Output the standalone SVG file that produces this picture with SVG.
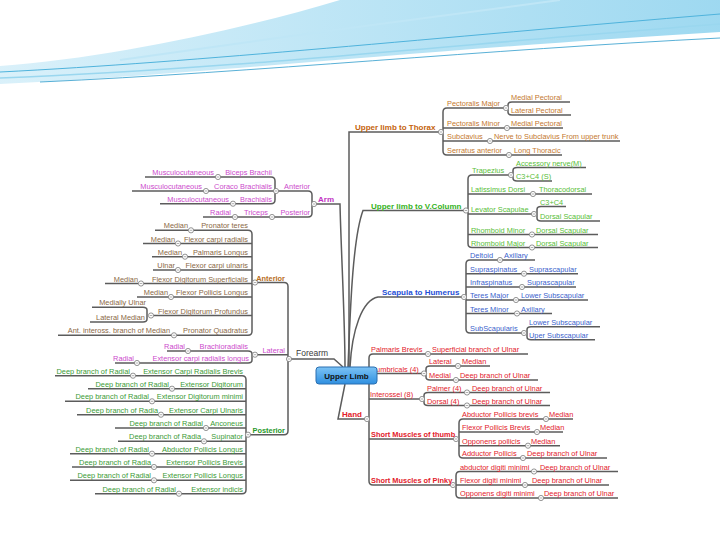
<svg xmlns="http://www.w3.org/2000/svg" xmlns:xlink="http://www.w3.org/1999/xlink" width="720" height="540" viewBox="0 0 720 540">
<defs>
<style>
text{font-family:"Liberation Sans",Arial,sans-serif;font-size:7.4px}
.b{font-weight:bold}
.T{font-size:8px;font-weight:bold}
.e{text-anchor:end}
.ln{fill:none;stroke:#5c5c5c;stroke-width:1.5}
.th{fill:#c4782e}.thT{fill:#c4620c}
.vc{fill:#58be38}.vcT{fill:#34b21c}
.sh{fill:#3a5fcc}.shT{fill:#1f4fd6}
.hd{fill:#e2202a}
.ar{fill:#cc4acc}.arT{fill:#c233c2}
.fa{fill:#8a6845}.faT{fill:#b86e22}
.po{fill:#3a9a35}.poT{fill:#28992a}
.fo{fill:#3a3a3a;font-size:8.5px}
</style>
<linearGradient id="hg" x1="0" y1="0" x2="1" y2="0"><stop offset="0" stop-color="#d3eef9"/><stop offset="1" stop-color="#8dd2ee"/></linearGradient>
<linearGradient id="cg" x1="0" y1="0" x2="0" y2="1"><stop offset="0" stop-color="#7cc3f5"/><stop offset="1" stop-color="#2f8fe0"/></linearGradient>
<g id="c"><circle cx="0" cy="0" r="2.6" fill="#fff" stroke="#7a7a7a" stroke-width="0.8"/><path d="M-1.3,0H1.3" stroke="#7a7a7a" stroke-width="0.6"/></g>
</defs>
<rect width="720" height="540" fill="#fff"/>
<g id="header">
<path d="M0,84 C180,76 420,50 720,32 L720,0 L340,0 C240,30 110,58 0,66 Z" fill="url(#hg)" opacity="0.85"/>
<path d="M0,72 C200,62 430,38 720,14" fill="none" stroke="#4fb3dc" stroke-width="1"/>
<path d="M0,78 C220,70 460,44 720,24" fill="none" stroke="#9ad7ef" stroke-width="1.5"/>
<path d="M40,82 C260,72 480,50 720,38" fill="none" stroke="#2f9ccb" stroke-width="0.8"/>
<path d="M120,60 C260,40 420,18 560,0" fill="none" stroke="#bfe6f6" stroke-width="2"/>
</g>
<g id="connectors">
<path class="ln" d="M349,367 V132 H440 M505,108 H447 Q443,108 443,112 V151 Q443,155 447,155 H562 M443,128 H563 M443,141 H620 M441,132 H443 M570,102 H512 Q508,102 508,105 V112 Q508,115 512,115 H571"/>
<path class="ln" d="M348,367 C350,320 352,240 363,210.5 H468 M509,175 H472 Q468,175 468,179 V243.5 Q468,247.5 472,247.5 H598 M468,194 H592 M468,214 H537 M468,234.5 H598 M586,167.5 H517 Q513,167.5 513,170.5 V178 Q513,181 517,181 H552 M566,206.5 H541 Q537,206.5 537,209.5 V218 Q537,221 541,221 H600"/>
<path class="ln" d="M350,367 C352,330 362,300 378,297 H466 M535,260 H470 Q466,260 466,264 V329 Q466,333 470,333 H527 M466,273.7 H578 M466,287 H576 M466,300 H588 M466,313.5 H552 M600,326.7 H531 Q527,326.7 527,329.7 V336.7 Q527,339.7 531,339.7 H595"/>
<path class="ln" d="M345,384 L338,419 H369 M528,354 H373 Q369,354 369,358 V481 Q369,485 373,485 H609 M369,373.5 H426 M490,366 H430 Q426,366 426,369 V377 Q426,380 430,380 H538 M369,399 H424 M550,392.5 H428 Q424,392.5 424,395.5 V402.5 Q424,405.5 428,405.5 H550 M369,439 H459 M573,419 H463 Q459,419 459,423 V454 Q459,458 463,458 H607 M459,432 H563 M459,445.7 H560 M618,471.5 H460 Q456,471.5 456,475.5 V494 Q456,498 460,498 H618"/>
<path class="ln" d="M345,367 C345,320 341,250 340,204 H312 M277,191 H308 Q312,191 312,195 V213 Q312,217 308,217 H203 M145,177 H271 Q275,177 275,181 V199.7 Q275,203.7 271,203.7 H160 M132,191 H277"/>
<path class="ln" d="M343,367 L334,359 H288 M256,282.5 H284 Q288,282.5 288,286.5 V430.7 Q288,434.7 284,434.7 H246 M252,354.7 H288 M155,230.3 H248 Q252,230.3 252,234.3 V331.3 Q252,335.3 248,335.3 H58 M143,243.5 H252 M152,256.7 H252 M153,270 H252 M105,283.5 H256 M137,297 H252 M150,315.5 H252 M92,307.3 H143 Q147,307.3 147,310.3 V319 Q147,322 143,322 H90 M167,351 H248 Q252,351 252,354 V360 Q252,363 248,363 H115 M55,375.7 H242 Q246,375.7 246,379.7 V489.7 Q246,493.7 242,493.7 H95 M88,388.7 H246 M65,401.3 H246 M77,414.7 H246 M115,428 H246 M118,441.3 H246 M70,453.7 H246 M72,467 H246 M70,480.3 H246"/>
<g id="toggles">
<use href="#c" x="441" y="132"/><use href="#c" x="506" y="108"/><use href="#c" x="507" y="128"/><use href="#c" x="490" y="141"/><use href="#c" x="509" y="155"/>
<use href="#c" x="466" y="210.5"/><use href="#c" x="511" y="175"/><use href="#c" x="533" y="194"/><use href="#c" x="534" y="214"/><use href="#c" x="532" y="234.5"/><use href="#c" x="532" y="247.5"/>
<use href="#c" x="464" y="297"/><use href="#c" x="500" y="260"/><use href="#c" x="524" y="273.7"/><use href="#c" x="522" y="287"/><use href="#c" x="516" y="300"/><use href="#c" x="517" y="313.5"/><use href="#c" x="524" y="333"/>
<use href="#c" x="367" y="419"/><use href="#c" x="428" y="354"/><use href="#c" x="424" y="373.5"/><use href="#c" x="458" y="366"/><use href="#c" x="456" y="380"/><use href="#c" x="422" y="399"/><use href="#c" x="467" y="392.5"/><use href="#c" x="467" y="405.5"/>
<use href="#c" x="456" y="439"/><use href="#c" x="546" y="419"/><use href="#c" x="537" y="432"/><use href="#c" x="528" y="445.7"/><use href="#c" x="523" y="458"/>
<use href="#c" x="453" y="485"/><use href="#c" x="534" y="471.5"/><use href="#c" x="525" y="485"/><use href="#c" x="541" y="498"/>
<use href="#c" x="314" y="204"/><use href="#c" x="276" y="191"/><use href="#c" x="218" y="177"/><use href="#c" x="206" y="191"/><use href="#c" x="233" y="203.7"/><use href="#c" x="272" y="217"/><use href="#c" x="235" y="217"/>
<use href="#c" x="289" y="359"/><use href="#c" x="255" y="282.5"/><use href="#c" x="191" y="230.3"/><use href="#c" x="178" y="243.5"/><use href="#c" x="185" y="256.7"/><use href="#c" x="178" y="270"/><use href="#c" x="141" y="283.5"/><use href="#c" x="171" y="297"/><use href="#c" x="151" y="315.5"/><use href="#c" x="174" y="335.3"/>
<use href="#c" x="255" y="354.7"/><use href="#c" x="188" y="351"/><use href="#c" x="137" y="363"/>
<use href="#c" x="248" y="434.7"/><use href="#c" x="133" y="375.7"/><use href="#c" x="172" y="388.7"/><use href="#c" x="152" y="401.3"/><use href="#c" x="161" y="414.7"/><use href="#c" x="206" y="428"/><use href="#c" x="204" y="441.3"/><use href="#c" x="152" y="453.7"/><use href="#c" x="154" y="467"/><use href="#c" x="154" y="480.3"/><use href="#c" x="179" y="493.7"/>
</g>
</g>
<g id="thorax">
<g id="n-thorax"><text class="T thT" x="355" y="129.5">Upper limb to Thorax</text></g>
<g id="n-pec-major"><text class="th" x="447" y="106">Pectoralis Major</text></g>
<g id="n-pec-major-med"><text class="th" x="511" y="100">Medial Pectoral</text></g>
<g id="n-pec-major-lat"><text class="th" x="511" y="113">Lateral Pectoral</text></g>
<g id="n-pec-minor"><text class="th" x="447" y="126">Pectoralis Minor</text></g>
<g id="n-pec-minor-med"><text class="th" x="511" y="126">Medial Pectoral</text></g>
<g id="n-subclavius"><text class="th" x="447" y="139">Subclavius</text></g>
<g id="n-subclavius-n"><text class="th" x="494" y="139">Nerve to Subclavius From upper trunk</text></g>
<g id="n-serratus"><text class="th" x="447" y="153">Serratus anterior</text></g>
<g id="n-serratus-n"><text class="th" x="514" y="153">Long Thoracic</text></g>
</g>
<g id="vcolumn">
<g id="n-vcol"><text class="T vcT" x="371" y="208.5">Upper limb to V.Column</text></g>
<g id="n-trap"><text class="vc" x="472" y="173">Trapezius</text></g>
<g id="n-trap-m"><text class="vc" x="516" y="165.5">Accessory nerve(M)</text></g>
<g id="n-trap-s"><text class="vc" x="516" y="179">C3+C4 (S)</text></g>
<g id="n-lat"><text class="vc" x="471" y="192">Latissimus Dorsi</text></g>
<g id="n-lat-n"><text class="vc" x="539" y="192">Thoracodorsal</text></g>
<g id="n-lev"><text class="vc" x="471" y="212">Levator Scapulae</text></g>
<g id="n-lev-c"><text class="vc" x="540" y="204.5">C3+C4</text></g>
<g id="n-lev-d"><text class="vc" x="540" y="219">Dorsal Scapular</text></g>
<g id="n-rmin"><text class="vc" x="471" y="232.5">Rhomboid Minor</text></g>
<g id="n-rmin-n"><text class="vc" x="536" y="232.5">Dorsal Scapular</text></g>
<g id="n-rmaj"><text class="vc" x="471" y="245.5">Rhomboid Major</text></g>
<g id="n-rmaj-n"><text class="vc" x="536" y="245.5">Dorsal Scapular</text></g>
</g>
<g id="scapula">
<g id="n-scap"><text class="T shT" x="382" y="295">Scapula to Humerus</text></g>
<g id="n-delt"><text class="sh" x="470" y="258">Deltoid</text></g>
<g id="n-delt-n"><text class="sh" x="504" y="258">Axillary</text></g>
<g id="n-supra"><text class="sh" x="470" y="271.7">Supraspinatus</text></g>
<g id="n-supra-n"><text class="sh" x="529" y="271.7">Suprascapular</text></g>
<g id="n-infra"><text class="sh" x="470" y="285">Infraspinatus</text></g>
<g id="n-infra-n"><text class="sh" x="527" y="285">Suprascapular</text></g>
<g id="n-tmaj"><text class="sh" x="470" y="298">Teres Major</text></g>
<g id="n-tmaj-n"><text class="sh" x="521" y="298">Lower Subscapular</text></g>
<g id="n-tmin"><text class="sh" x="470" y="311.5">Teres Minor</text></g>
<g id="n-tmin-n"><text class="sh" x="521" y="311.5">Axillary</text></g>
<g id="n-subs"><text class="sh" x="470" y="331">SubScapularis</text></g>
<g id="n-subs-l"><text class="sh" x="529" y="324.7">Lower Subscapular</text></g>
<g id="n-subs-u"><text class="sh" x="529" y="337.7">Uper Subscapular</text></g>
</g>
<g id="hand">
<g id="n-hand"><text class="T hd" x="342" y="417">Hand</text></g>
<g id="n-palb"><text class="hd" x="371" y="352">Palmaris Brevis</text></g>
<g id="n-palb-n"><text class="hd" x="432" y="352">Superficial branch of Ulnar</text></g>
<g id="n-lumb"><text class="hd" x="372" y="371.5">Lumbricals (4)</text></g>
<g id="n-lumb-l"><text class="hd" x="429" y="364">Lateral</text></g>
<g id="n-lumb-ln"><text class="hd" x="462" y="364">Median</text></g>
<g id="n-lumb-m"><text class="hd" x="429" y="378">Medial</text></g>
<g id="n-lumb-mn"><text class="hd" x="460" y="378">Deep branch of Ulnar</text></g>
<g id="n-inter"><text class="hd" x="370" y="397">Interossei (8)</text></g>
<g id="n-inter-p"><text class="hd" x="427" y="390.5">Palmer (4)</text></g>
<g id="n-inter-pn"><text class="hd" x="472" y="390.5">Deep branch of Ulnar</text></g>
<g id="n-inter-d"><text class="hd" x="427" y="403.5">Dorsal (4)</text></g>
<g id="n-inter-dn"><text class="hd" x="472" y="403.5">Deep branch of Ulnar</text></g>
<g id="n-thumb"><text class="hd b" x="371" y="437">Short Muscles of thumb</text></g>
<g id="n-apb"><text class="hd" x="462" y="417">Abductor Pollicis brevis</text></g>
<g id="n-apb-n"><text class="hd" x="549" y="417">Median</text></g>
<g id="n-fpb"><text class="hd" x="462" y="430">Flexor Pollicis Brevis</text></g>
<g id="n-fpb-n"><text class="hd" x="540" y="430">Median</text></g>
<g id="n-opp"><text class="hd" x="462" y="443.7">Opponens pollicis</text></g>
<g id="n-opp-n"><text class="hd" x="531" y="443.7">Median</text></g>
<g id="n-add"><text class="hd" x="462" y="456">Adductor Pollicis</text></g>
<g id="n-add-n"><text class="hd" x="527" y="456">Deep branch of Ulnar</text></g>
<g id="n-pinky"><text class="hd b" x="371" y="483">Short Muscles of Pinky</text></g>
<g id="n-adm"><text class="hd" x="460" y="469.5">abductor digiti minimi</text></g>
<g id="n-adm-n"><text class="hd" x="540" y="469.5">Deep branch of Ulnar</text></g>
<g id="n-fdm"><text class="hd" x="460" y="483">Flexor digiti minimi</text></g>
<g id="n-fdm-n"><text class="hd" x="532" y="483">Deep branch of Ulnar</text></g>
<g id="n-odm"><text class="hd" x="460" y="496">Opponens digiti minimi</text></g>
<g id="n-odm-n"><text class="hd" x="544" y="496">Deep branch of Ulnar</text></g>
</g>
<g id="arm">
<g id="n-arm"><text class="T arT" x="318" y="202">Arm</text></g>
<g id="n-arm-ant"><text class="ar e" x="310" y="189">Anterior</text></g>
<g id="n-arm-post"><text class="ar e" x="310" y="215">Posterior</text></g>
<g id="n-biceps"><text class="ar e" x="272" y="175">Biceps Brachii</text></g>
<g id="n-biceps-n"><text class="ar e" x="214" y="175">Musculocutaneous</text></g>
<g id="n-coraco"><text class="ar e" x="272" y="189">Coraco Brachialis</text></g>
<g id="n-coraco-n"><text class="ar e" x="202" y="189">Musculocutaneous</text></g>
<g id="n-brach"><text class="ar e" x="272" y="201.7">Brachialis</text></g>
<g id="n-brach-n"><text class="ar e" x="229" y="201.7">Musculocutaneous</text></g>
<g id="n-triceps"><text class="ar e" x="268" y="215">Triceps</text></g>
<g id="n-triceps-n"><text class="ar e" x="231" y="215">Radial</text></g>
</g>
<g id="forearm">
<g id="n-forearm"><text class="fo" x="296" y="356">Forearm</text></g>
<g id="n-fa-ant"><text class="faT b e" x="285" y="280.5">Anterior</text></g>
<g id="n-pt"><text class="fa e" x="248" y="228.3">Pronator teres</text></g>
<g id="n-pt-n"><text class="fa e" x="188" y="228.3">Median</text></g>
<g id="n-fcr"><text class="fa e" x="248" y="241.5">Flexor carpi radialis</text></g>
<g id="n-fcr-n"><text class="fa e" x="175" y="241.5">Median</text></g>
<g id="n-pl"><text class="fa e" x="248" y="254.7">Palmaris Longus</text></g>
<g id="n-pl-n"><text class="fa e" x="182" y="254.7">Median</text></g>
<g id="n-fcu"><text class="fa e" x="248" y="268">Flexor carpi ulnaris</text></g>
<g id="n-fcu-n"><text class="fa e" x="175" y="268">Ulnar</text></g>
<g id="n-fds"><text class="fa e" x="248" y="281.5">Flexor Digitorum Superficialis</text></g>
<g id="n-fds-n"><text class="fa e" x="138" y="281.5">Median</text></g>
<g id="n-fpl"><text class="fa e" x="248" y="295">Flexor Pollicis Longus</text></g>
<g id="n-fpl-n"><text class="fa e" x="168" y="295">Median</text></g>
<g id="n-fdp"><text class="fa e" x="248" y="313.5">Flexor Digitorum Profundus</text></g>
<g id="n-fdp-u"><text class="fa e" x="146" y="305.3">Medially Ulnar</text></g>
<g id="n-fdp-m"><text class="fa e" x="145" y="320">Lateral Median</text></g>
<g id="n-pq"><text class="fa e" x="248" y="333.3">Pronator Quadratus</text></g>
<g id="n-pq-n"><text class="fa e" x="170" y="333.3">Ant. inteross. branch of Median</text></g>
<g id="n-fa-lat"><text class="ar e" x="285" y="352.7">Lateral</text></g>
<g id="n-br"><text class="ar e" x="248" y="349">Brachioradialis</text></g>
<g id="n-br-n"><text class="ar e" x="185" y="349">Radial</text></g>
<g id="n-ecrl"><text class="ar e" x="249" y="361">Extensor carpi radialis longus</text></g>
<g id="n-ecrl-n"><text class="ar e" x="134" y="361">Radial</text></g>
<g id="n-fa-post"><text class="poT b e" x="285" y="432.7">Posterior</text></g>
<g id="n-ecrb"><text class="po e" x="243" y="373.7">Extensor Carpi Radialis Brevis</text></g>
<g id="n-ecrb-n"><text class="po e" x="130" y="373.7">Deep branch of Radial</text></g>
<g id="n-ed"><text class="po e" x="243" y="386.7">Extensor Digitorum</text></g>
<g id="n-ed-n"><text class="po e" x="169" y="386.7">Deep branch of Radial</text></g>
<g id="n-edm"><text class="po e" x="243" y="399.3">Extensor Digitorum minimi</text></g>
<g id="n-edm-n"><text class="po e" x="149" y="399.3">Deep branch of Radial</text></g>
<g id="n-ecu"><text class="po e" x="243" y="412.7">Extensor Carpi Ulnaris</text></g>
<g id="n-ecu-n"><text class="po e" x="158" y="412.7">Deep branch of Radia</text></g>
<g id="n-anc"><text class="po e" x="243" y="426">Anconeus</text></g>
<g id="n-anc-n"><text class="po e" x="203" y="426">Deep branch of Radial</text></g>
<g id="n-sup"><text class="po e" x="243" y="439.3">Supinator</text></g>
<g id="n-sup-n"><text class="po e" x="201" y="439.3">Deep branch of Radia</text></g>
<g id="n-apl"><text class="po e" x="243" y="451.7">Abductor Pollicis Longus</text></g>
<g id="n-apl-n"><text class="po e" x="149" y="451.7">Deep branch of Radial</text></g>
<g id="n-epb"><text class="po e" x="243" y="465">Extensor Pollicis Brevis</text></g>
<g id="n-epb-n"><text class="po e" x="151" y="465">Deep branch of Radia</text></g>
<g id="n-epl"><text class="po e" x="243" y="478.3">Extensor Pollicis Longus</text></g>
<g id="n-epl-n"><text class="po e" x="151" y="478.3">Deep branch of Radial</text></g>
<g id="n-ei"><text class="po e" x="243" y="491.7">Extensor indicis</text></g>
<g id="n-ei-n"><text class="po e" x="176" y="491.7">Deep branch of Radial</text></g>
</g>
<g id="upper-limb">
<rect x="316" y="367" width="61" height="17" rx="3" fill="url(#cg)" stroke="#2a6fb0" stroke-width="1"/>
<text x="346.5" y="378.6" text-anchor="middle" style="font-size:8px;font-weight:bold;fill:#111">Upper Limb</text>
</g>
</svg>
